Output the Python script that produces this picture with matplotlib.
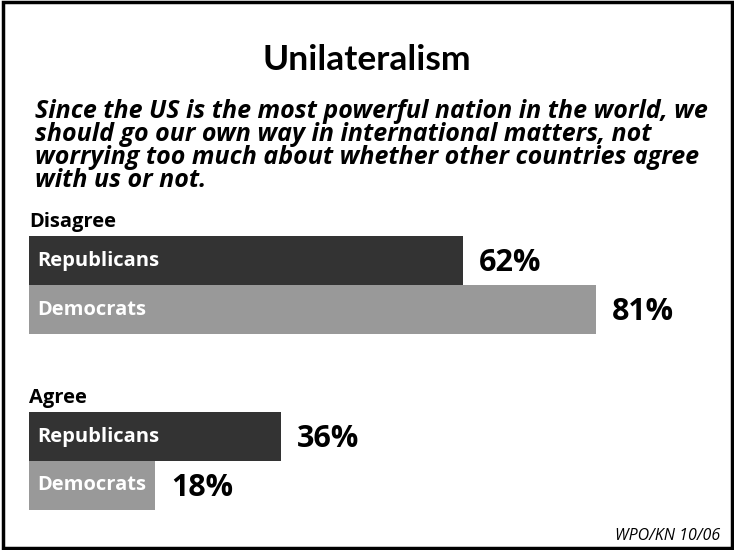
import matplotlib
matplotlib.use("Agg")
import matplotlib.pyplot as plt
from matplotlib.patches import Rectangle

plt.rcParams['font.family'] = ['Open Sans', 'DejaVu Sans']

title = "Unilateralism"
subtitle = ("Since the US is the most powerful nation in the world, we\n"
            "should go our own way in international matters, not\n"
            "worrying too much about whether other countries agree\n"
            "with us or not.")
groups = ["Disagree", "Agree"]
parties = ["Republicans", "Democrats"]
values = {"Disagree": [62, 81], "Agree": [36, 18]}
colors = ["#333333", "#999999"]
source = "WPO/KN 10/06"

W, H = 734, 550
fig = plt.figure(figsize=(W / 100, H / 100), dpi=100)
fig.patch.set_facecolor("white")

# frame
fig.add_artist(Rectangle((2.5 / W, 2 / H), (W - 5) / W, (H - 4) / H, transform=fig.transFigure,
                         fill=False, edgecolor="black", linewidth=2.5))

fig.text(0.5, 1 - 70 / H, title, ha="center", va="baseline", fontsize=25.5, fontweight="bold",
         family=["Lato", "DejaVu Sans"])
# va='baseline' anchors the last line's baseline
fig.text(35 / W, 1 - 187 / H, subtitle, ha="left", va="baseline", fontsize=18,
         fontweight="bold", fontstyle="italic", linespacing=0.9)

unit = 49.0
ax_top, ax_bot = 236, 510
ax = fig.add_axes([29 / W, 1 - ax_bot / H, 700 / W, (ax_bot - ax_top) / H])
ax.set_xlim(0, 100)
ax.set_ylim((ax_bot - ax_top) / unit, 0)
ax.axis("off")

group_starts = [0, (412 - ax_top) / unit]
for g, start in zip(groups, group_starts):
    ax.text(0, start - 0.19, g, ha="left", va="baseline", fontsize=14.5, fontweight="bold")
    for i, (p, v, c) in enumerate(zip(parties, values[g], colors)):
        y = start + i
        ax.barh(y, v, height=1, align="edge", color=c, edgecolor="none")
        ax.text(1.2, y + 0.5, p, ha="left", va="center", color="white", fontsize=14.5, fontweight="bold")
        ax.text(v + 2.3, y + 0.55, f"{v}%", ha="left", va="center", color="black",
                fontsize=22, fontweight="bold")

fig.text(720 / W, 1 - 536 / H, source, ha="right", va="center", fontsize=11.5, fontstyle="italic")

fig.savefig("out.png", dpi=100)
